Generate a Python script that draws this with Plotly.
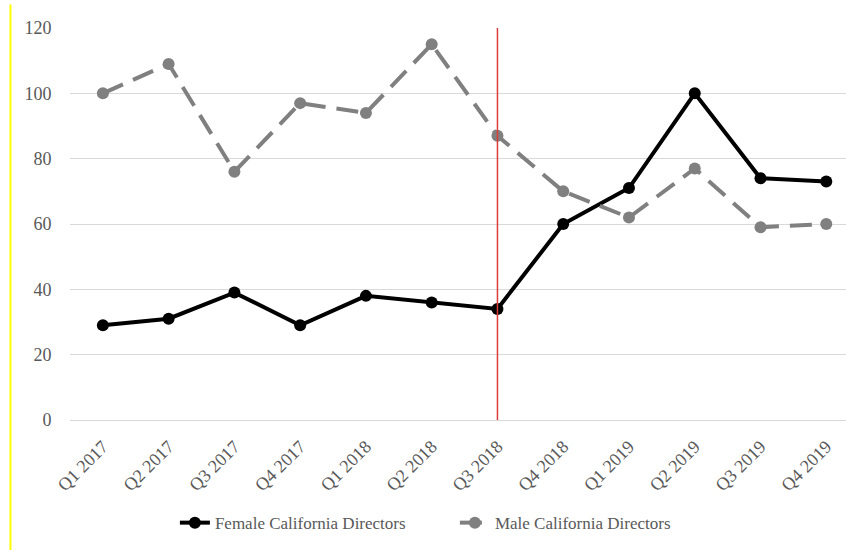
import plotly.graph_objects as go

quarters = ["Q1 2017", "Q2 2017", "Q3 2017", "Q4 2017",
            "Q1 2018", "Q2 2018", "Q3 2018", "Q4 2018",
            "Q1 2019", "Q2 2019", "Q3 2019", "Q4 2019"]
female = [29, 31, 39, 29, 38, 36, 34, 60, 71, 100, 74, 73]
male = [100, 109, 76, 97, 94, 115, 87, 70, 62, 77, 59, 60]
marker_quarter = "Q3 2018"
y_ticks = [0, 20, 40, 60, 80, 100, 120]

font_family = "'Liberation Serif', 'Times New Roman', Times, serif"
idx = list(range(len(quarters)))

fig = go.Figure()
fig.add_trace(go.Scatter(
    x=idx, y=female, name="Female California Directors",
    mode="lines+markers",
    line=dict(color="#000000", width=4),
    marker=dict(color="#000000", size=12),
))
fig.add_trace(go.Scatter(
    x=idx, y=male, name="Male California Directors",
    mode="lines+markers",
    line=dict(color="#808080", width=4, dash="22px,11px"),
    marker=dict(color="#808080", size=12),
))

# vertical divider at Q3 2018
qi = quarters.index(marker_quarter)
fig.add_shape(type="line", xref="x", yref="y", x0=qi, x1=qi, y0=0, y1=120,
              line=dict(color="#dc3c3c", width=1.5), layer="above")

# left edge rule
fig.add_shape(type="line", xref="paper", yref="paper",
              x0=-0.0767, x1=-0.0767, y0=-0.34, y1=1.06,
              line=dict(color="#ffff00", width=2))

fig.update_layout(
    width=846, height=550,
    margin=dict(l=70, r=0, t=28, b=130),
    paper_bgcolor="white", plot_bgcolor="white",
    font=dict(family=font_family, size=18, color="#595959"),
    showlegend=True,
    legend=dict(orientation="h", x=0.496, xanchor="center", y=-0.263, yanchor="middle",
                font=dict(family=font_family, size=17, color="#595959"),
                entrywidth=235, entrywidthmode="pixels",
                bgcolor="rgba(0,0,0,0)"),
    xaxis=dict(
        tickmode="array", tickvals=idx, ticktext=quarters,
        range=[-0.5, 11.3], tickangle=-45, showgrid=False,
        showline=False, zeroline=False, ticks="outside", ticklen=8,
        tickcolor="rgba(0,0,0,0)",
        tickfont=dict(family=font_family, size=18, color="#595959"),
    ),
    yaxis=dict(
        range=[0, 120], tickvals=y_ticks, showgrid=True,
        gridcolor="#d9d9d9", gridwidth=1, zeroline=True,
        zerolinecolor="#d9d9d9", zerolinewidth=1,
        showline=False, ticks="outside", ticklen=14, tickcolor="rgba(0,0,0,0)",
        tickfont=dict(family=font_family, size=18, color="#595959"),
    ),
)

fig.write_html("out.html")
